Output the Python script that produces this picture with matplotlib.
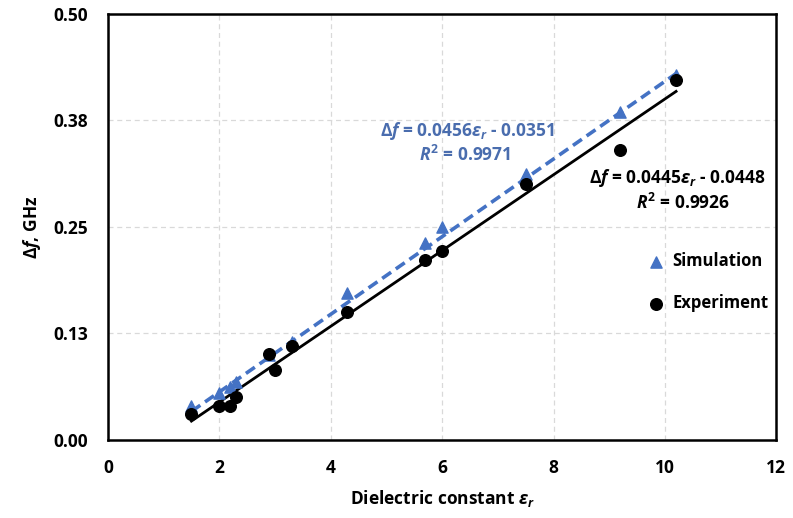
import numpy as np
import matplotlib
matplotlib.use("Agg")
import matplotlib.pyplot as plt

plt.rcParams['font.family'] = ['Open Sans', 'DejaVu Sans']
plt.rcParams['font.weight'] = 'bold'
plt.rcParams['mathtext.fontset'] = 'custom'
plt.rcParams['mathtext.rm'] = 'Open Sans:bold'
plt.rcParams['mathtext.it'] = 'Open Sans:italic:bold'
plt.rcParams['mathtext.bf'] = 'Open Sans:bold'

# data
sim_x = [1.5, 2.0, 2.2, 2.3, 2.9, 3.3, 4.3, 5.7, 6.0, 7.5, 9.2, 10.2]
sim_y = [0.040, 0.055, 0.062, 0.068, 0.100, 0.115, 0.172, 0.231, 0.250, 0.312, 0.385, 0.428]
exp_x = [1.5, 2.0, 2.2, 2.3, 2.9, 3.0, 3.3, 4.3, 5.7, 6.0, 7.5, 9.2, 10.2]
exp_y = [0.030, 0.040, 0.040, 0.050, 0.101, 0.082, 0.110, 0.150, 0.211, 0.222, 0.300, 0.340, 0.423]

# trendline coefficients (slope, intercept) as printed on the chart
sim_fit = (0.0456, -0.0351)
exp_fit = (0.0445, -0.0448)

yticks = [0.0, 0.125, 0.25, 0.375, 0.5]
ytick_labels = ['0.00', '0.13', '0.25', '0.38', '0.50']

blue = '#4472C4'
txt_blue = '#4A6DAE'
fs = 12.5

fig = plt.figure(figsize=(7.93, 5.18), dpi=100)
ax = fig.add_axes([0.136, 0.151, 0.843, 0.822])

xs = np.array([min(sim_x), max(sim_x)])
ax.plot(xs, sim_fit[0] * xs + sim_fit[1], color=blue, lw=2.6, ls=(0, (3, 1.6)), zorder=3)
ax.plot(xs, exp_fit[0] * xs + exp_fit[1], color='black', lw=2.0, zorder=3)

ax.scatter(sim_x, sim_y, marker='^', s=65, color=blue, zorder=4, label='Simulation')
ax.scatter(exp_x, exp_y, marker='o', s=70, color='black', zorder=5, label='Experiment')

ax.set_xlim(0, 12)
ax.set_ylim(0, 0.5)
ax.set_xticks(range(0, 13, 2))
ax.set_yticks(yticks)
ax.set_yticklabels(ytick_labels)
ax.tick_params(axis='y', length=0, labelsize=fs, pad=14)
ax.tick_params(axis='x', length=0, labelsize=fs, pad=14)
for lab in ax.get_xticklabels() + ax.get_yticklabels():
    lab.set_fontweight('bold')
ax.grid(True, color='#D9D9D9', ls=(0, (4, 3)), lw=0.9)
ax.set_axisbelow(True)
for sp in ax.spines.values():
    sp.set_linewidth(1.8)

ax.set_xlabel(r'Dielectric constant $\varepsilon_r$', fontsize=fs, fontweight='bold', labelpad=8)
ax.set_ylabel(r'$\Delta f$, GHz', fontsize=fs, fontweight='bold', labelpad=8)

ax.text(6.46, 0.363, r'$\Delta f$ = 0.0456$\varepsilon_r$ - 0.0351', color=txt_blue,
        fontsize=fs, fontweight='bold', ha='center', va='center')
ax.text(6.42, 0.334, r'$R^2$ = 0.9971', color=txt_blue,
        fontsize=fs, fontweight='bold', ha='center', va='center')
ax.text(10.22, 0.307, r'$\Delta f$ = 0.0445$\varepsilon_r$ - 0.0448', color='black',
        fontsize=fs, fontweight='bold', ha='center', va='center')
ax.text(10.32, 0.278, r'$R^2$ = 0.9926', color='black',
        fontsize=fs, fontweight='bold', ha='center', va='center')

ax.legend(loc='center left', bbox_to_anchor=(0.785, 0.37), frameon=False,
          handletextpad=0.0, labelspacing=1.45, prop={'weight': 'bold', 'size': 12},
          markerscale=1.0, borderaxespad=0)

fig.savefig('out.png', dpi=100)
